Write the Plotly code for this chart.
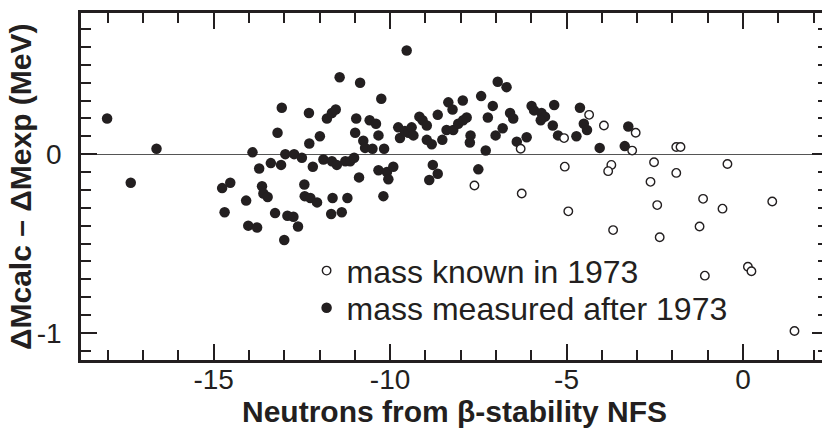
import plotly.graph_objects as go

# Measured after 1973 (filled dots)
after_nfs = [
    -18.02, -16.62, -17.35, -11.43, -13.07, -12.30, -11.79, -11.65, -11.54, -13.19,
    -11.99, -12.29, -13.90, -12.97, -12.72, -12.50, -13.71, -13.38, -13.09, -12.19,
    -11.89, -11.65, -11.51, -11.27, -14.76, -14.53, -13.63, -13.59, -13.47, -12.43,
    -12.42, -12.26, -12.07, -11.63, -11.21, -14.08, -14.69, -13.26, -12.91, -12.74,
    -12.61, -11.67, -11.37, -14.02, -13.77, -13.00, -11.13, -11.02, -10.88, -10.19,
    -10.33, -10.09, -10.05, -9.91, -9.53, -10.85, -10.25, -10.96, -10.58, -10.40,
    -10.99, -10.33, -10.76, -10.71, -10.50, -10.17, -9.77, -9.72, -9.58, -9.48,
    -9.39, -9.34, -9.17, -9.08, -8.96, -8.96, -8.82, -8.65, -8.79, -8.65,
    -8.89, -8.52, -8.40, -8.21, -8.07, -7.93, -7.83, -8.35, -8.23, -7.94,
    -7.72, -7.74, -7.42, -7.09, -7.23, -7.29, -7.50, -6.95, -6.70, -7.01,
    -6.81, -6.60, -6.51, -6.41, -6.13, -5.99, -5.92, -5.71, -5.61, -5.73,
    -5.35, -5.39, -5.24, -4.62, -4.72, -4.51, -4.42, -4.06, -3.35, -3.25,
]
after_dm = [
    0.20, 0.03, -0.16, 0.43, 0.26, 0.23, 0.20, 0.23, 0.25, 0.12,
    0.10, 0.06, 0.01, 0.00, 0.00, -0.02, -0.08, -0.05, -0.06, -0.07,
    -0.03, -0.04, -0.06, -0.04, -0.19, -0.16, -0.18, -0.22, -0.24, -0.17,
    -0.235, -0.245, -0.27, -0.245, -0.245, -0.26, -0.325, -0.33, -0.345, -0.35,
    -0.405, -0.335, -0.325, -0.40, -0.41, -0.48, -0.04, -0.02, -0.13, -0.235,
    -0.09, -0.10, -0.14, -0.07, 0.58, 0.40, 0.31, 0.20, 0.19, 0.17,
    0.12, 0.105, 0.075, 0.035, 0.03, 0.03, 0.15, 0.09, 0.13, 0.12,
    0.15, 0.105, 0.21, 0.19, 0.16, 0.08, 0.055, 0.22, -0.06, -0.11,
    -0.145, 0.08, 0.135, 0.135, 0.17, 0.19, 0.205, 0.29, 0.25, 0.30,
    0.105, 0.065, 0.325, 0.27, 0.205, 0.02, -0.085, 0.405, 0.375, 0.105,
    0.145, 0.23, 0.20, 0.07, 0.095, 0.27, 0.245, 0.23, 0.21, 0.19,
    0.275, 0.16, 0.105, 0.26, 0.10, 0.17, 0.135, 0.035, 0.045, 0.155,
]

# Known in 1973 (open circles)
known_nfs = [
    -7.61, -6.30, -6.27, -5.07, -5.05, -4.95, -4.36, -3.94, -3.73, -3.82,
    -3.68, -3.04, -3.14, -1.89, -1.77, -2.52, -1.89, -0.44, -2.62, -1.13,
    -2.43, -0.58, 0.83, -1.23, -2.36, -1.08, 0.14, 0.24, 1.46,
]
known_dm = [
    -0.175, 0.03, -0.22, 0.09, -0.07, -0.32, 0.22, 0.16, -0.06, -0.095,
    -0.425, 0.12, 0.02, 0.04, 0.04, -0.045, -0.105, -0.055, -0.155, -0.25,
    -0.285, -0.305, -0.265, -0.405, -0.465, -0.68, -0.63, -0.655, -0.99,
]

x_ticks = [-15, -10, -5, 0]
x_tick_text = ["-15", "-10", "-5", "0"]
y_ticks = [-1, 0]
y_tick_text = ["-1", "0"]

INK = "#231f20"
FONT = "Liberation Sans, Arial, sans-serif"

fig = go.Figure()
fig.add_trace(go.Scatter(
    x=after_nfs, y=after_dm, mode="markers", name="mass measured after 1973",
    marker=dict(symbol="circle", size=10.5, color=INK, line=dict(width=0)),
    legend="legend2",
))
fig.add_trace(go.Scatter(
    x=known_nfs, y=known_dm, mode="markers", name="mass known in 1973",
    marker=dict(symbol="circle", size=8.5, color="white", line=dict(width=1.4, color=INK)),
    legend="legend",
))

axis_common = dict(
    showline=True, linewidth=2.5, linecolor=INK, mirror="ticks",
    ticks="inside", ticklen=16, tickwidth=1.8, tickcolor=INK,
    showgrid=False, automargin=False,
    tickfont=dict(family=FONT, size=28, color=INK),
)

fig.update_xaxes(
    range=[-18.76, 2.41], tickvals=x_ticks, ticktext=x_tick_text, zeroline=False,
    minor=dict(dtick=1, tick0=0, ticks="inside", ticklen=10, tickwidth=1.5, tickcolor=INK),
    ticklabelstandoff=-7, **axis_common,
)
fig.update_yaxes(
    range=[-1.152, 0.79], tickvals=y_ticks, ticktext=y_tick_text,
    zeroline=True, zerolinecolor="#555555", zerolinewidth=1.3,
    minor=dict(dtick=0.1, tick0=0, ticks="inside", ticklen=10, tickwidth=1.5, tickcolor=INK),
    ticklabelstandoff=11, **axis_common,
)

fig.add_annotation(
    text="<b>Neutrons from β-stability NFS</b>", xref="paper", yref="paper",
    x=0.5, y=-0.147, xanchor="center", yanchor="middle", showarrow=False,
    font=dict(family=FONT, size=30, color=INK),
)
fig.add_annotation(
    text="<b>ΔMcalc – ΔMexp (MeV)</b>", xref="paper", yref="paper",
    x=-0.080, y=0.499, xanchor="center", yanchor="middle", showarrow=False,
    textangle=-90, font=dict(family=FONT, size=30, color=INK),
)

legend_common = dict(
    xanchor="left", yanchor="middle", bgcolor="rgba(0,0,0,0)",
    font=dict(family=FONT, size=32, color=INK), itemwidth=30,
)

# page body has an 8px margin, so the figure is sized to fit inside the window
fig.update_layout(
    width=822, height=426,
    margin=dict(l=73, r=2, t=5, b=74),
    plot_bgcolor="white", paper_bgcolor="white",
    showlegend=True,
    legend=dict(x=0.302, y=0.257, **legend_common),
    legend2=dict(x=0.302, y=0.150, **legend_common),
)

fig.write_html("out.html")
